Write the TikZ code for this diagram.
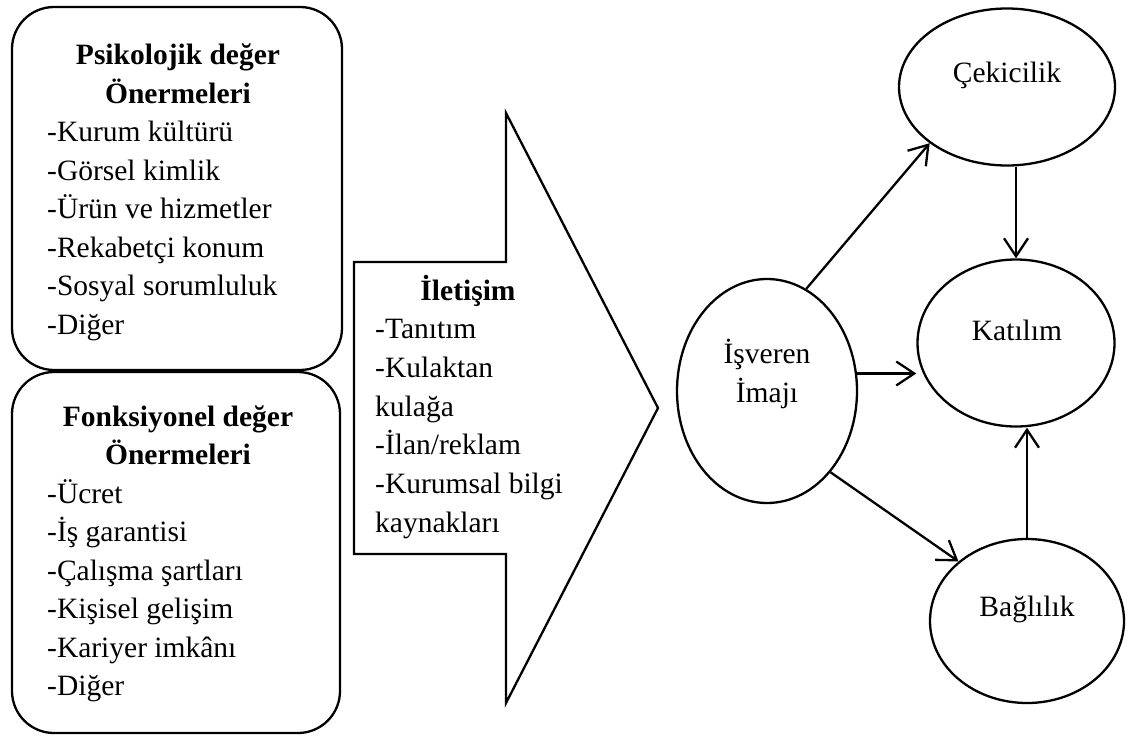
\documentclass[tikz,border=0pt]{standalone}
\usepackage{fontspec}
\setmainfont{Liberation Serif}
\usetikzlibrary{arrows.meta,shapes.geometric}
\begin{document}
\begin{tikzpicture}[x=1pt,y=-1pt,
  panel/.style={draw,line width=2.3pt,rounded corners=42pt,anchor=north west,inner sep=0pt,outer sep=0pt},
  oval/.style={draw,ellipse,line width=2.3pt,inner sep=0pt},
  plain/.style={font=\fontsize{29.5}{38.5}\selectfont,inner sep=0pt},
  item/.style={plain,anchor=base west},
  label/.style={plain,anchor=base},
  head/.style={plain,font=\fontsize{29.5}{38.5}\selectfont\bfseries,anchor=base},
  flow/.style={line width=2.3pt,-{Straight Barb[length=18pt,width=24pt]}}]

\useasboundingbox (0,0) rectangle (1129,736);

% left panels: value propositions
\node[panel,minimum width=330pt,minimum height=363pt] (psy) at (12,7) {};
\node[panel,minimum width=328pt,minimum height=361pt] (fun) at (12,372) {};

\node[head] (psyh1) at (178,64.5) {Psikolojik değer};
\node[head] (psyh2) at (178,103) {Önermeleri};
\foreach \t [count=\i] in {-Kurum kültürü,-Görsel kimlik,-Ürün ve hizmetler,-Rekabetçi konum,-Sosyal sorumluluk,-Diğer}
  \node[item] (psy\i) at (47,{141.5+38.5*(\i-1)}) {\t};

\node[head] (funh1) at (178,426) {Fonksiyonel değer};
\node[head] (funh2) at (178,464.5) {Önermeleri};
\foreach \t [count=\i] in {-Ücret,-İş garantisi,-Çalışma şartları,-Kişisel gelişim,-Kariyer imkânı,-Diğer}
  \node[item] (fun\i) at (47,{503+38.5*(\i-1)}) {\t};

% block arrow: communication
\draw[line width=2.3pt,line join=miter] (354,262) -- (506,262) -- (506,113) -- (658,408)
  -- (506,703) -- (506,554) -- (354,554) -- cycle;
\node[head] (comh) at (468,300) {İletişim};
\foreach \t [count=\i] in {-Tanıtım,-Kulaktan,kulağa,-İlan/reklam,-Kurumsal bilgi,kaynakları}
  \node[item] (com\i) at (375,{300+38.7*\i}) {\t};

% outcome model
\node[oval,minimum width=216pt,minimum height=157pt] (cek) at (1007,87) {};
\node[oval,minimum width=197pt,minimum height=167pt] (kat) at (1016,343) {};
\node[oval,minimum width=180pt,minimum height=224pt] (isv) at (767,391) {};
\node[oval,minimum width=194pt,minimum height=164pt] (bag) at (1027,621) {};

\node[label] (cekt) at (1007,82) {Çekicilik};
\node[label] (katt) at (1017,340) {Katılım};
\node[label] (isvt1) at (767,363) {İşveren};
\node[label] (isvt2) at (767,402) {İmajı};
\node[label] (bagt) at (1027,616) {Bağlılık};

\draw[flow] (isv.69) -- (cek.216);
\draw[flow] (cek.south -| kat.north) -- (kat.north);
\draw[flow] (isv.11) -- (isv.11 -| kat.west);
\draw[flow] (isv.-52) -- (bag.139.5);
\draw[flow] (bag.north) -- (bag.north |- kat.south);
\end{tikzpicture}
\end{document}
